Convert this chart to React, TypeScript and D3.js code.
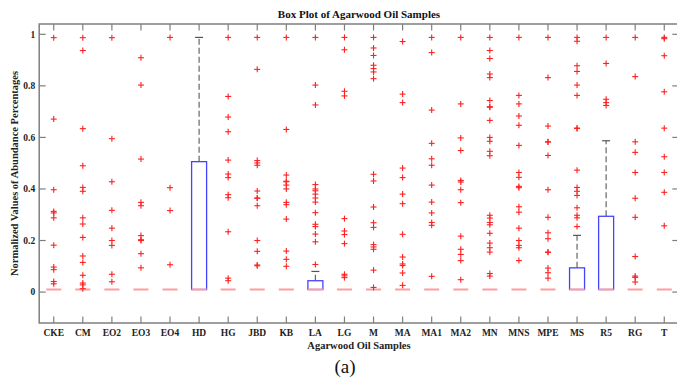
import React from "react";
import * as d3 from "d3";

const categories = ["CKE","CM","EO2","EO3","EO4","HD","HG","JBD","KB","LA","LG","M","MA","MA1","MA2","MN","MNS","MPE","MS","R5","RG","T"];

const medians = [0.01,0.01,0.01,0.01,0.01,0.01,0.01,0.01,0.01,0.01,0.01,0.01,0.01,0.01,0.01,0.01,0.01,0.01,0.01,0.01,0.01,0.01];
const q1s = [0.01,0.01,0.01,0.01,0.01,0.01,0.01,0.01,0.01,0.01,0.01,0.01,0.01,0.01,0.01,0.01,0.01,0.01,0.01,0.01,0.01,0.01];
const q3s = [0.01,0.01,0.01,0.01,0.01,0.506,0.01,0.01,0.01,0.044,0.01,0.01,0.01,0.01,0.01,0.01,0.01,0.01,0.094,0.294,0.01,0.01];
const upperWhiskers = [0.01,0.01,0.01,0.01,0.01,0.988,0.01,0.01,0.01,0.08,0.01,0.01,0.01,0.01,0.01,0.01,0.01,0.01,0.22,0.587,0.01,0.01];

const outCKE = [0.987,0.671,0.397,0.313,0.307,0.288,0.182,0.097,0.087,0.041,0.032];
const outCM = [0.987,0.937,0.634,0.49,0.406,0.391,0.288,0.264,0.212,0.14,0.115,0.065,0.035,0.028,0.013];
const outEO2 = [0.987,0.595,0.428,0.317,0.248,0.2,0.181,0.069,0.04];
const outEO3 = [0.909,0.803,0.516,0.348,0.335,0.219,0.203,0.2,0.149,0.094];
const outEO4 = [0.988,0.405,0.316,0.106];
const outHD: number[] = [];
const outHG = [0.988,0.759,0.679,0.622,0.512,0.458,0.444,0.378,0.366,0.234,0.054,0.044];
const outJBD = [0.988,0.864,0.51,0.501,0.492,0.392,0.365,0.364,0.335,0.2,0.158,0.105,0.102];
const outKB = [0.988,0.631,0.454,0.43,0.428,0.415,0.4,0.348,0.339,0.283,0.159,0.127,0.1];
const outLA = [0.988,0.803,0.726,0.417,0.4,0.393,0.38,0.365,0.349,0.308,0.263,0.254,0.225,0.195,0.107];
const outLG = [0.988,0.94,0.779,0.761,0.285,0.237,0.223,0.188,0.069,0.063,0.056];
const outM = [0.988,0.947,0.918,0.88,0.867,0.854,0.828,0.457,0.431,0.33,0.269,0.251,0.184,0.175,0.166,0.085,0.018];
const outMA = [0.972,0.768,0.735,0.481,0.444,0.38,0.343,0.224,0.136,0.109,0.103,0.074,0.026];
const outMA1 = [0.988,0.929,0.706,0.577,0.517,0.492,0.415,0.349,0.307,0.27,0.259,0.061];
const outMA2 = [0.988,0.73,0.598,0.549,0.433,0.427,0.397,0.347,0.217,0.166,0.146,0.122,0.048];
const outMN = [0.988,0.937,0.906,0.846,0.832,0.743,0.719,0.717,0.666,0.6,0.585,0.546,0.529,0.298,0.287,0.27,0.261,0.228,0.19,0.172,0.155,0.072,0.062];
const outMNS = [0.988,0.763,0.73,0.683,0.647,0.569,0.464,0.445,0.41,0.405,0.331,0.31,0.248,0.2,0.181,0.172,0.122];
const outMPE = [0.988,0.832,0.644,0.583,0.582,0.53,0.397,0.29,0.23,0.207,0.155,0.154,0.093,0.075,0.054];
const outMS = [0.988,0.973,0.878,0.856,0.803,0.763,0.636,0.635,0.473,0.406,0.391,0.375,0.327,0.298,0.288,0.254];
const outR5 = [0.988,0.887,0.748,0.735,0.724];
const outRG = [0.988,0.836,0.583,0.542,0.464,0.364,0.29,0.138,0.062,0.057,0.039];
const outT = [0.988,0.983,0.917,0.777,0.636,0.525,0.464,0.387,0.257];

const outliers = [outCKE,outCM,outEO2,outEO3,outEO4,outHD,outHG,outJBD,outKB,outLA,outLG,outM,outMA,outMA1,outMA2,outMN,outMNS,outMPE,outMS,outR5,outRG,outT];

const yTicks = [0, 0.2, 0.4, 0.6, 0.8, 1];
const yTickLabels = ["0", "0.2", "0.4", "0.6", "0.8", "1"];

const W = 677, H = 379;
const left = 39.2, right = 678.8, top = 24, bottom = 323;
const font = "Liberation Serif, DejaVu Serif, serif";
const axisColor = "#7f7f7f";

export default function App() {
  const x = d3.scalePoint<string>().domain(categories).range([left, right]).padding(0.5);
  const y = d3.scaleLinear().domain([-0.12, 1.04]).range([bottom, top]);
  const tl = 6.5;
  const bw = 7.5;
  const ms = 3;

  return (
    <svg width={W} height={H} style={{ position: "absolute", left: 0, top: 0, background: "#fff" }}>
      <rect x={0} y={0} width={W} height={H} fill="#fff" />
      <rect x={left} y={top} width={right - left} height={bottom - top} fill="none" stroke={axisColor} strokeWidth={1.5} />
      {yTicks.map((t, i) => (
        <g key={"yt" + i}>
          <line x1={left} x2={left + tl} y1={y(t)} y2={y(t)} stroke={axisColor} strokeWidth={1.2} />
          <line x1={right} x2={right - tl} y1={y(t)} y2={y(t)} stroke={axisColor} strokeWidth={1.2} />
          <text x={left - 4} y={y(t)} dy="0.35em" textAnchor="end" style={{ fontFamily: font }} fontWeight="bold" fontSize={9.5} fill="#222">{yTickLabels[i]}</text>
        </g>
      ))}
      {categories.map((c) => (
        <g key={"xt" + c}>
          <line x1={x(c)!} x2={x(c)!} y1={bottom} y2={bottom - tl} stroke={axisColor} strokeWidth={1.2} />
          <line x1={x(c)!} x2={x(c)!} y1={top} y2={top + tl} stroke={axisColor} strokeWidth={1.2} />
          <text x={x(c)!} y={336} textAnchor="middle" style={{ fontFamily: font }} fontWeight="bold" fontSize={9.5} fill="#222">{c}</text>
        </g>
      ))}
      {categories.map((c, i) => {
        const cx = x(c)!;
        return (
          <g key={"b" + c}>
            {upperWhiskers[i] > q3s[i] && (
              <g>
                <line x1={cx} x2={cx} y1={y(q3s[i])} y2={y(upperWhiskers[i])} stroke="#666" strokeWidth={1.2} strokeDasharray="6,3" />
                <line x1={cx - 4} x2={cx + 4} y1={y(upperWhiskers[i])} y2={y(upperWhiskers[i])} stroke="#555" strokeWidth={1.2} />
              </g>
            )}
            {q3s[i] > q1s[i] && (
              <rect x={cx - bw} y={y(q3s[i])} width={bw * 2} height={y(q1s[i]) - y(q3s[i])} fill="none" stroke="#4444ff" strokeWidth={1.3} />
            )}
            <line x1={cx - bw} x2={cx + bw} y1={y(medians[i])} y2={y(medians[i])} stroke="#ff9c9c" strokeWidth={2} />
            {outliers[i].map((v, j) => (
              <g key={j}>
                <line x1={cx - ms} x2={cx + ms} y1={y(v)} y2={y(v)} stroke="#ff2020" strokeWidth={1.1} />
                <line x1={cx} x2={cx} y1={y(v) - ms} y2={y(v) + ms} stroke="#ff2020" strokeWidth={1.1} />
              </g>
            ))}
          </g>
        );
      })}
      <text x={(left + right) / 2} y={18} textAnchor="middle" style={{ fontFamily: font }} fontWeight="bold" fontSize={11} fill="#111">Box Plot of Agarwood Oil Samples</text>
      <text x={(left + right) / 2} y={348.5} textAnchor="middle" style={{ fontFamily: font }} fontWeight="bold" fontSize={10.5} fill="#222">Agarwood Oil Samples</text>
      <text transform={`translate(18,${(top + bottom) / 2}) rotate(-90)`} textAnchor="middle" style={{ fontFamily: font }} fontWeight="bold" fontSize={10.5} fill="#222">Normalized Values of Abundance Percentages</text>
      <text x={345} y={373} textAnchor="middle" style={{ fontFamily: font }} fontSize={19} fill="#111">(a)</text>
    </svg>
  );
}
